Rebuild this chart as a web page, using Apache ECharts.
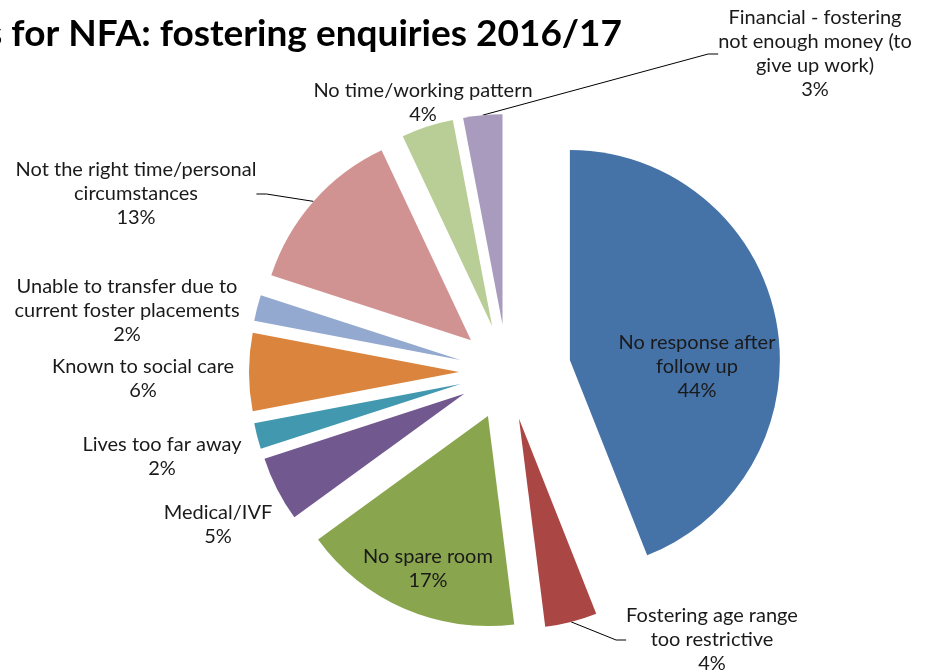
<!DOCTYPE html>
<html>
<head>
<meta charset="utf-8">
<title>Reasons for NFA: fostering enquiries 2016/17</title>
<script src="https://cdn.jsdelivr.net/npm/echarts@6/dist/echarts.min.js"></script>
<style>
  html, body { margin: 0; padding: 0; background: #fff; }
  #chart { width: 935px; height: 672px; }
</style>
</head>
<body>
<div id="chart"></div>
<script>
// slices, clockwise from 12 o'clock
const categories = [
  'No response after\nfollow up',
  'Fostering age range\ntoo restrictive',
  'No spare room',
  'Medical/IVF',
  'Lives too far away',
  'Known to social care',
  'Unable to transfer due to\ncurrent foster placements',
  'Not the right time/personal\ncircumstances',
  'No time/working pattern',
  'Financial - fostering\nnot enough money (to\ngive up work)'
];
const values = [44, 4, 17, 5, 2, 6, 2, 13, 4, 3];

// styling (kept apart from the data)
const colors = ['#4572A7', '#AA4643', '#89A54E', '#71588F', '#4198AF',
                '#DB843D', '#93A9CF', '#D19392', '#B9CD96', '#A99BBD'];
const labelPos = [[697, 367], [712, 640], [428, 569], [218, 525], [162, 457],
                  [143, 379], [127, 311], [136, 194], [423, 103], [815, 54]];
const leaderLine = [false, true, false, false, false, false, false, true, false, true];

const FONT = 'Lato, "Open Sans", sans-serif';
const CENTER = [507, 372];
const R = 210;
const NONE = 'rgba(0,0,0,0)';

const chart = echarts.init(document.getElementById('chart'));

// exploded slices; the big slice is pulled out a bit further than the rest
const slices = (offset, showIdx) => ({
  type: 'pie',
  center: CENTER,
  radius: [0, R],
  startAngle: 90,
  clockwise: true,
  selectedMode: 'multiple',
  selectedOffset: offset,
  silent: true,
  emphasis: { disabled: true },
  itemStyle: { borderWidth: 0 },
  label: { show: false },
  labelLine: { show: false },
  data: categories.map((name, i) => ({
    name: name,
    value: values[i],
    selected: true,
    itemStyle: { color: showIdx(i) ? colors[i] : NONE }
  }))
});

const option = {
  animation: false,
  title: {
    text: 'Reasons for NFA: fostering enquiries 2016/17',
    right: 313,
    top: 16,
    padding: 0,
    textStyle: { fontFamily: FONT, fontWeight: 'bold', fontSize: 37, color: '#000' }
  },
  series: [
    slices(48, i => i !== 0),
    slices(64, i => i === 0),
    // invisible copy that only carries the data labels and leader lines
    {
      type: 'pie',
      center: CENTER,
      radius: [0, R + 48],
      startAngle: 90,
      clockwise: true,
      silent: true,
      avoidLabelOverlap: false,
      emphasis: { disabled: true },
      itemStyle: { color: NONE, borderWidth: 0 },
      label: {
        show: true,
        color: '#1a1a1a',
        fontFamily: FONT,
        fontSize: 20,
        lineHeight: 24,
        align: 'center',
        formatter: p => p.name + '\n' + Math.round(p.percent) + '%'
      },
      labelLine: {
        show: false,
        length: 10,
        length2: 10,
        lineStyle: { color: '#000', width: 1 }
      },
      labelLayout: p => ({
        x: labelPos[p.dataIndex][0],
        y: labelPos[p.dataIndex][1],
        align: 'center',
        verticalAlign: 'middle'
      }),
      data: categories.map((name, i) => ({
        name: name,
        value: values[i],
        labelLine: { show: leaderLine[i] }
      }))
    }
  ]
};

chart.setOption(option);
</script>
</body>
</html>
